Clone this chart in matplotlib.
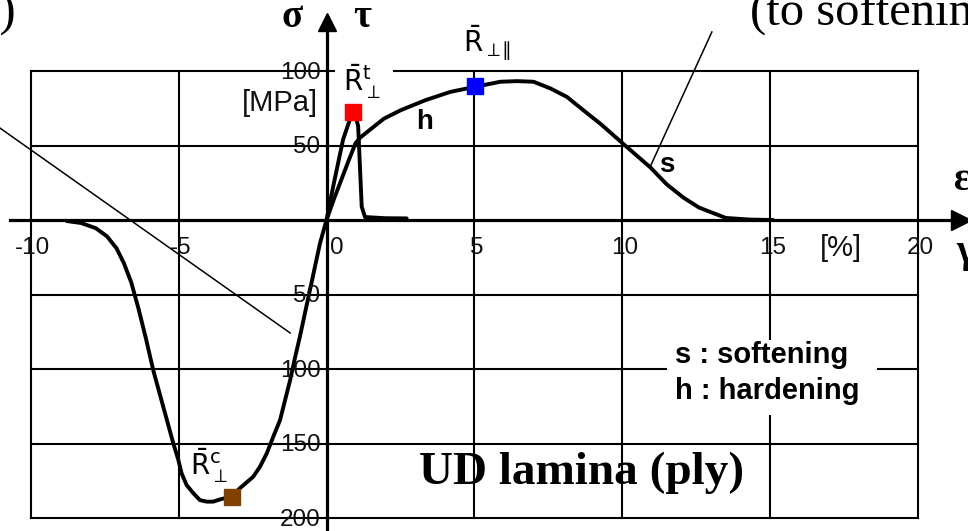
"""UD lamina stress-strain sketch (sigma/tau vs eps/gamma)"""
import matplotlib
matplotlib.use('Agg')
import matplotlib.pyplot as plt
from matplotlib.patches import Rectangle

plt.rcParams['mathtext.fontset'] = 'dejavusans'

# shear curve tau(gamma), [%] and [MPa]
gamma_s = [0, 0.25, 0.5, 0.75, 0.98, 1.15, 1.37, 1.94, 2.5, 3.34, 4.19, 5.05, 5.88,
           6.44, 7.0, 7.57, 8.13, 8.69, 9.26, 10.04, 10.95, 11.5, 12.07, 12.6,
           13.5, 14.3, 15.1]
tau_s = [0, 14, 27, 40, 51.5, 55.5, 59, 68, 73.6, 80.4, 86, 89.5, 92.8,
         93.2, 92.8, 88.3, 82.6, 73.6, 64.6, 51, 35.3, 24, 15, 8.3,
         1.4, 0.3, 0]

# transverse tension
eps_t = [0, 0.22, 0.56, 0.80, 0.88, 0.98, 1.07, 1.13, 1.19, 1.30, 2.0, 2.71]
sig_t = [0, 22, 54, 68, 72, 70, 63, 36, 9, 2, 1.2, 1.1]

# transverse compression
eps_c = [-8.78, -8.3, -7.8, -7.42, -7.10, -6.85, -6.6, -6.35, -6.10,
         -5.86, -5.52, -5.18, -5.01, -4.90, -4.73, -4.50, -4.28, -4.05, -3.83,
         -3.60, -3.23, -2.93, -2.48, -2.25, -2.02, -1.80, -1.57, -1.40, -1.23,
         -1.07, -0.90, -0.73, -0.56, -0.39, -0.22, 0]
sig_c = [-0.7, -2.0, -5.5, -11, -19, -29, -42, -60, -80,
         -100.7, -125.3, -149.9, -161, -170, -177.9, -183.4, -188, -189, -189,
         -187.5, -185.7, -180, -172.3, -165.6, -156.6, -145.4, -134.2, -120.8, -107.4,
         -92.8, -78.3, -62.6, -47, -31.3, -15.6, 0]

# strength points
R_t = (0.88, 72.5)
R_s = (5.02, 89.9)
R_c = (-3.21, -185.6)

x_ticks = [-10, -5, 5, 10, 15, 20]
y_ticks = [100, 50, -50, -100, -150, -200]

fig = plt.figure(figsize=(9.68, 5.31), dpi=100)
ax = fig.add_axes([0, 0, 1, 1])
ax.set_xlim(-11.04, 21.69)
ax.set_ylim(-208.7, 147.65)
ax.axis('off')

# grid
for x in x_ticks:
    ax.plot([x, x], [-200, 100], color='black', lw=1.5, zorder=1)
for y in y_ticks:
    ax.plot([-10, 20], [y, y], color='black', lw=1.5, zorder=1)

# white patches behind labels
ax.add_patch(Rectangle((0.29, 78), 1.96, 30, facecolor='white', edgecolor='none', zorder=2))
ax.add_patch(Rectangle((11.52, -130.9), 7.1, 50.4, facecolor='white', edgecolor='none', zorder=2))

# axes with arrows
ax.plot([-10.7, 21.5], [0, 0], color='black', lw=2.3, zorder=3)
ax.plot([0, 0], [-210, 130], color='black', lw=2.3, zorder=3)
ax.plot([0], [133.0], marker='^', ms=13, color='black', zorder=3, clip_on=False)
ax.plot([21.45], [0], marker='>', ms=14, color='black', zorder=3, clip_on=False)

# curves
curve = dict(color='black', lw=2.8, zorder=4, solid_capstyle='round', solid_joinstyle='round')
ax.plot(gamma_s, tau_s, **curve)
ax.plot(eps_t, sig_t, **curve)
ax.plot(eps_c, sig_c, **curve)

ax.plot(*R_t, marker='s', ms=11.5, color='#FF0000', zorder=5)
ax.plot(*R_s, marker='s', ms=11.5, color='#0000FF', zorder=5)
ax.plot(*R_c, marker='s', ms=11.5, color='#804000', zorder=5)

# pointer lines
ax.plot([-11.04, -1.23], [61.7, -75.8], color='black', lw=1.1, zorder=4)
ax.plot([10.94, 13.03], [35.6, 126.2], color='black', lw=1.1, zorder=4)

# tick labels
tick_font = dict(family='Liberation Sans', fontsize=17.5, color='#111111', zorder=6)
for x in x_ticks:
    ax.text(x + 0.07, -18.8, str(x), ha='center', va='center', **tick_font)
ax.text(0.12, -18.8, '0', ha='left', va='center', **tick_font)
for y in y_ticks:
    ax.text(-0.2, y - 1.3, str(abs(y)), ha='right', va='center', **tick_font)
ax.text(-0.3, 78.5, '[MPa]', ha='right', va='center', family='Liberation Sans',
        fontsize=21, color='#111111', zorder=6)
ax.text(17.4, -18.8, '[%]', ha='center', va='center', family='Liberation Sans',
        fontsize=21, color='#111111', zorder=6)

# axis symbols
greek = dict(family='Liberation Serif', fontweight='bold', fontsize=28, zorder=6)
ax.text(-1.17, 129.5, 'σ', ha='center', va='baseline', **greek)
ax.text(1.20, 129.5, 'τ', ha='center', va='baseline', **greek)
ax.text(21.5, 26.2, 'ε', ha='center', va='center', **greek)
ax.text(21.6, -21.5, 'γ', ha='center', va='center', **greek)

# strength labels
rlab = dict(ha='left', va='center', fontsize=20, zorder=6)
ax.text(0.56, 92.6, r'$\bar{\mathrm{R}}_\perp^{\mathrm{t}}$', **rlab)
ax.text(4.62, 118.8, r'$\bar{\mathrm{R}}_{\perp\!\!\parallel}$', **rlab)
ax.text(-4.62, -165, r'$\bar{\mathrm{R}}_\perp^{\mathrm{c}}$', **rlab)

ax.text(3.33, 65.8, 'h', ha='center', va='center', family='Liberation Sans',
        fontweight='bold', fontsize=20, zorder=6)
ax.text(11.52, 36.9, 's', ha='center', va='center', family='Liberation Sans',
        fontweight='bold', fontsize=20, zorder=6)

legend_font = dict(family='Liberation Sans', fontweight='bold', fontsize=21, zorder=6)
ax.text(11.79, -90.6, 's : softening', ha='left', va='center', **legend_font)
ax.text(11.79, -114.8, 'h : hardening', ha='left', va='center', **legend_font)

ax.text(8.61, -177.2, 'UD lamina (ply)', ha='center', va='baseline',
        family='Liberation Serif', fontweight='bold', fontsize=34, zorder=6)

ax.text(14.33, 130.9, '(to softening)', ha='left', va='baseline',
        family='Liberation Serif', fontsize=35, zorder=6)
ax.text(-10.50, 130.9, '(to failure)', ha='right', va='baseline',
        family='Liberation Serif', fontsize=35, zorder=6)

fig.savefig('out.png', dpi=100)
plt.close(fig)
